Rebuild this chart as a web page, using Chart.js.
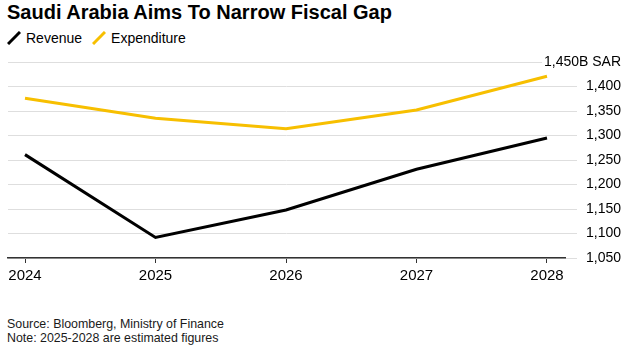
<!DOCTYPE html>
<html><head><meta charset="utf-8">
<script src="https://cdn.jsdelivr.net/npm/chart.js@4.4.1/dist/chart.umd.min.js"></script>
<style>
html,body{margin:0;padding:0;background:#fff;width:632px;height:351px;overflow:hidden;font-family:"Liberation Sans",Arial,sans-serif;color:#000}
#title{position:absolute;left:7px;top:1px;font-size:20px;font-weight:bold;white-space:nowrap}
#legend{position:absolute;left:7px;top:30px;font-size:14px;white-space:nowrap;display:flex;align-items:center}
#legend .item{display:flex;align-items:center;margin-right:10px}
#legend svg{margin-right:5px}
#notes{position:absolute;left:7px;top:317px;font-size:12.4px;line-height:14px;color:#1a1a1a;white-space:nowrap}
#wrap{position:absolute;left:0;top:0;width:632px;height:300px}
</style></head>
<body>
<div id="title">Saudi Arabia Aims To Narrow Fiscal Gap</div>
<div id="legend"></div>
<div id="wrap"><canvas id="c" width="632" height="300"></canvas></div>
<div id="notes">Source: Bloomberg, Ministry of Finance<br>Note: 2025-2028 are estimated figures</div>
<script>
const years = [2024, 2025, 2026, 2027, 2028];
const revenue = [1261, 1092, 1148, 1231, 1295];
const expenditure = [1376, 1335, 1314, 1352, 1421];
const yTicks = [1050, 1100, 1150, 1200, 1250, 1300, 1350, 1400, 1450];
const seriesNames = ['Revenue', 'Expenditure'];
const seriesColors = ['#000000', '#f7bf00'];

const legend = document.getElementById('legend');
seriesNames.forEach((n, i) => {
  const d = document.createElement('div');
  d.className = 'item';
  d.innerHTML = '<svg width="14" height="14"><line x1="1" y1="13" x2="13" y2="1" stroke="' + seriesColors[i] + '" stroke-width="3"/></svg><span>' + n + '</span>';
  legend.appendChild(d);
});

const topGrid = {
  id: 'topGrid',
  beforeDatasetsDraw(chart) {
    const y = chart.scales.y.getPixelForValue(yTicks[yTicks.length - 1]);
    const ctx = chart.ctx;
    ctx.save();
    ctx.strokeStyle = '#dedede';
    ctx.lineWidth = 1;
    ctx.beginPath();
    ctx.moveTo(chart.chartArea.left, Math.round(y) + 0.5);
    ctx.lineTo(542, Math.round(y) + 0.5);
    ctx.stroke();
    ctx.restore();
  }
};

new Chart(document.getElementById('c'), {
  type: 'line',
  data: {
    datasets: [
      { label: seriesNames[0], data: years.map((x, i) => ({x, y: revenue[i]})), borderColor: seriesColors[0], borderWidth: 3, pointRadius: 0, tension: 0, fill: false },
      { label: seriesNames[1], data: years.map((x, i) => ({x, y: expenditure[i]})), borderColor: seriesColors[1], borderWidth: 3, pointRadius: 0, tension: 0, fill: false }
    ]
  },
  options: {
    responsive: false,
    animation: false,
    events: [],
    layout: { padding: { left: 8, right: 0, top: 62, bottom: 12 } },
    plugins: { legend: { display: false }, tooltip: { enabled: false } },
    scales: {
      x: {
        type: 'linear',
        min: 2024 - 17 / 130.5,
        max: 2028 + 18 / 130.5,
        afterBuildTicks(s) { s.ticks = years.map(v => ({ value: v })); },
        afterFit(s) { s.height = 30; },
        grid: { drawOnChartArea: false, drawTicks: true, tickLength: 5, color: '#333', lineWidth: 1 },
        border: { display: true, color: '#333', width: 1.5, z: 1 },
        ticks: { color: '#000', font: { family: 'Liberation Sans', size: 15 }, padding: 4, maxRotation: 0, callback: v => String(v) }
      },
      y: {
        position: 'right',
        min: 1050,
        max: 1450,
        afterBuildTicks(s) { s.ticks = yTicks.map(v => ({ value: v })); },
        afterFit(s) { s.width = 67; s.paddingTop = 0; s.paddingBottom = 0; },
        grid: { color: c => (c.tick && c.tick.value === 1450) ? 'rgba(0,0,0,0)' : '#dedede', lineWidth: 1, tickLength: 12, drawTicks: true },
        border: { display: false },
        ticks: {
          color: '#000', font: { family: 'Liberation Sans', size: 14 }, mirror: true, crossAlign: 'near', padding: 56,
          callback: v => v === 1450 ? '1,450B SAR' : v.toLocaleString('en-US')
        }
      }
    }
  },
  plugins: [topGrid]
});
</script>
</body></html>
